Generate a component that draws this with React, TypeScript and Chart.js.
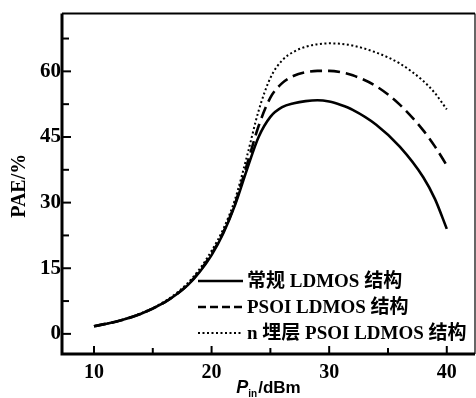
import React, { useEffect, useRef } from "react";
import { Chart, registerables } from "chart.js";

Chart.register(...registerables);

const pin = [10, 12, 14, 16, 17, 18, 19, 20, 21, 22, 23, 24, 25, 26, 27, 28, 29, 30, 31, 32, 34, 36, 38, 39, 40];
const paeConventional = [1.75, 2.9, 4.6, 7.2, 9, 11.2, 14.2, 18, 23, 29.5, 37.5, 45, 49.6, 51.8, 52.7, 53.2, 53.4, 53.1, 52.3, 51.2, 47.8, 42.8, 35.8, 30.8, 24];
const paePsoi = [1.75, 2.9, 4.6, 7.2, 9, 11.3, 14.4, 18.3, 23.3, 29.8, 38.6, 47.5, 54, 57.3, 59, 59.8, 60.1, 60.1, 59.8, 59.1, 56.6, 52.4, 46.5, 42.8, 38.5];
const paeNBuried = [1.75, 2.9, 4.7, 7.4, 9.3, 11.7, 14.9, 19, 24, 30.8, 40.5, 51, 58.5, 62.5, 64.5, 65.6, 66.2, 66.4, 66.3, 65.9, 64.3, 61.8, 57.8, 55, 51.3];

const seriesLabels = ["常规 LDMOS 结构", "PSOI LDMOS 结构", "n 埋层 PSOI LDMOS 结构"];
const xTicks = [10, 20, 30, 40];
const xMinorTicks = [15, 25, 35];
const yTicks = [0, 15, 30, 45, 60];
const yMinorTicks = [7.5, 22.5, 37.5, 52.5, 67.5];
const yTitle = "PAE/%";

const SERIF = "'Liberation Serif', 'Times New Roman', serif";
const MIXED = "'Liberation Serif', 'Noto Sans CJK SC', serif";

const decorPlugin = {
  id: "decor",
  afterDraw(chart: any) {
    const ctx = chart.ctx;
    const a = chart.chartArea;
    const xs = chart.scales.x;
    const ys = chart.scales.y;
    ctx.save();
    // frame
    ctx.strokeStyle = "#000";
    ctx.lineCap = "butt";
    ctx.lineWidth = 3;
    ctx.beginPath();
    ctx.moveTo(a.left, a.top);
    ctx.lineTo(a.left, a.bottom);
    ctx.lineTo(a.right, a.bottom);
    ctx.stroke();
    ctx.lineWidth = 2;
    ctx.beginPath();
    ctx.moveTo(a.left, a.top);
    ctx.lineTo(a.right, a.top);
    ctx.stroke();
    ctx.lineWidth = 1.2;
    ctx.beginPath();
    ctx.moveTo(a.right, a.top);
    ctx.lineTo(a.right, a.bottom);
    ctx.stroke();
    // ticks (inward)
    ctx.lineWidth = 2;
    const yt = (v: number, len: number) => {
      const p = ys.getPixelForValue(v);
      ctx.beginPath();
      ctx.moveTo(a.left, p);
      ctx.lineTo(a.left + len, p);
      ctx.stroke();
    };
    const xt = (v: number, len: number) => {
      const p = xs.getPixelForValue(v);
      ctx.beginPath();
      ctx.moveTo(p, a.bottom);
      ctx.lineTo(p, a.bottom - len);
      ctx.stroke();
    };
    yTicks.forEach((v) => yt(v, 9));
    yMinorTicks.forEach((v) => yt(v, 7));
    xTicks.forEach((v) => xt(v, 8));
    xMinorTicks.forEach((v) => xt(v, 6));

    // y title
    ctx.fillStyle = "#000";
    ctx.save();
    ctx.translate(20, (a.top + a.bottom) / 2 + 2);
    ctx.rotate(-Math.PI / 2);
    ctx.font = `bold 20px ${SERIF}`;
    ctx.textAlign = "center";
    ctx.textBaseline = "middle";
    ctx.fillText(yTitle, 0, 0);
    ctx.restore();

    // x title: P_in/dBm
    const base = 393;
    ctx.textBaseline = "alphabetic";
    ctx.textAlign = "left";
    const pFont = `italic bold 18px 'Liberation Sans', sans-serif`;
    const subFont = `bold 10px 'Liberation Sans', sans-serif`;
    const restFont = `bold 17px 'Liberation Sans', sans-serif`;
    ctx.font = pFont;
    const wP = ctx.measureText("P").width;
    ctx.font = subFont;
    const wSub = ctx.measureText("in").width;
    ctx.font = restFont;
    const wRest = ctx.measureText("/dBm").width;
    const total = wP + wSub + 1 + wRest;
    let x0 = (a.left + a.right) / 2 - total / 2;
    ctx.font = pFont;
    ctx.fillText("P", x0, base);
    x0 += wP;
    ctx.font = subFont;
    ctx.fillText("in", x0, base + 4);
    x0 += wSub + 1;
    ctx.font = restFont;
    ctx.fillText("/dBm", x0, base);

    // legend
    const rows = [281, 307, 333];
    chart.data.datasets.forEach((ds: any, i: number) => {
      const y = rows[i];
      ctx.strokeStyle = "#000";
      ctx.lineWidth = ds.borderWidth;
      ctx.setLineDash(i === 1 ? [8, 4] : ds.borderDash || []);
      ctx.beginPath();
      ctx.moveTo(198, y);
      ctx.lineTo(243, y);
      ctx.stroke();
      ctx.setLineDash([]);
      ctx.font = `bold 19px ${MIXED}`;
      ctx.textBaseline = "middle";
      ctx.fillText(ds.label, 247, y + 1);
    });
    ctx.restore();
  },
};

export default function App() {
  const ref = useRef<HTMLCanvasElement | null>(null);
  useEffect(() => {
    document.body.style.margin = "0";
    const canvas = ref.current!;
    const mk = (arr: number[]) => pin.map((x, i) => ({ x, y: arr[i] }));
    const chart = new Chart(canvas, {
      type: "line",
      data: {
        datasets: [
          {
            label: seriesLabels[0],
            data: mk(paeConventional),
            borderColor: "#000",
            borderWidth: 2.6,
            pointRadius: 0,
            cubicInterpolationMode: "monotone",
          },
          {
            label: seriesLabels[1],
            data: mk(paePsoi),
            borderColor: "#000",
            borderWidth: 2.6,
            borderDash: [12, 6],
            pointRadius: 0,
            cubicInterpolationMode: "monotone",
          },
          {
            label: seriesLabels[2],
            data: mk(paeNBuried),
            borderColor: "#000",
            borderWidth: 2,
            borderDash: [2, 2.5],
            pointRadius: 0,
            cubicInterpolationMode: "monotone",
          },
        ],
      },
      options: {
        responsive: false,
        animation: false,
        events: [],
        layout: { padding: { top: 12, right: 1, left: 0, bottom: 0 } },
        plugins: { legend: { display: false }, tooltip: { enabled: false } },
        scales: {
          x: {
            type: "linear",
            min: 7.28,
            max: 42.4,
            grid: { display: false, drawTicks: false, tickLength: 0 },
            border: { display: false },
            afterBuildTicks: (s: any) => {
              s.ticks = xTicks.map((v) => ({ value: v }));
            },
            afterFit: (s: any) => {
              s.height = 44;
            },
            ticks: {
              padding: 7,
              color: "#000",
              font: { family: SERIF, size: 20, weight: "bold" },
              maxRotation: 0,
              autoSkip: false,
            },
          },
          y: {
            type: "linear",
            min: -4.6,
            max: 73.2,
            grid: { display: false, drawTicks: false, tickLength: 0 },
            border: { display: false },
            afterBuildTicks: (s: any) => {
              s.ticks = yTicks.map((v) => ({ value: v }));
            },
            afterFit: (s: any) => {
              s.width = 62;
            },
            ticks: {
              padding: 1,
              color: "#000",
              font: { family: SERIF, size: 21, weight: "bold" },
              autoSkip: false,
            },
          },
        },
      },
      plugins: [decorPlugin],
    } as any);
    return () => chart.destroy();
  }, []);
  return (
    <div style={{ position: "absolute", left: 0, top: 0, width: 476, height: 398 }}>
      <canvas ref={ref} width={476} height={398} />
    </div>
  );
}
